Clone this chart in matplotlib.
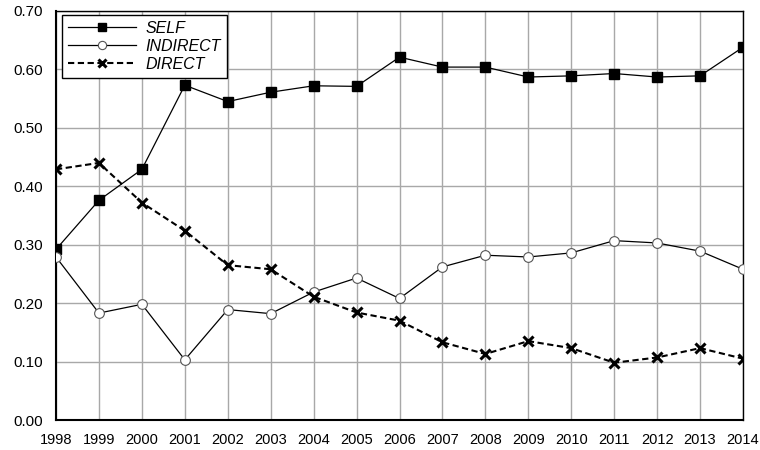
import matplotlib.pyplot as plt

plt.rcParams['font.family'] = ['Liberation Sans', 'DejaVu Sans']

years = list(range(1998, 2015))
self_vals = [0.292, 0.376, 0.429, 0.573, 0.545, 0.561, 0.572, 0.571, 0.621,
             0.604, 0.604, 0.587, 0.589, 0.593, 0.587, 0.589, 0.638]
indirect_vals = [0.279, 0.183, 0.198, 0.103, 0.189, 0.182, 0.219, 0.243, 0.208,
                 0.262, 0.282, 0.279, 0.286, 0.307, 0.303, 0.289, 0.258]
direct_vals = [0.429, 0.440, 0.372, 0.324, 0.265, 0.258, 0.211, 0.184, 0.170,
               0.133, 0.113, 0.135, 0.123, 0.098, 0.107, 0.123, 0.105]

fig = plt.figure(figsize=(7.6, 4.5), dpi=100)
# axes box measured in pixels: x 56..743, y 11..420
ax = fig.add_axes([56 / 760, 30 / 450, 687 / 760, 409 / 450])

ax.plot(years, self_vals, color='black', lw=0.9, marker='s', ms=7.2,
        mfc='black', mec='black', label='SELF', zorder=3)
ax.plot(years, indirect_vals, color='black', lw=0.9, marker='o', ms=7,
        mfc='white', mec='#555555', mew=0.8, label='INDIRECT', zorder=3)
ax.plot(years, direct_vals, color='black', lw=1.5, ls=(0, (3, 1.7)), marker='x',
        ms=6.5, mew=2.2, mec='black', label='DIRECT', zorder=3)

ax.set_xlim(1998, 2014)
ax.set_ylim(0, 0.70)
ax.set_xticks(years)
ax.set_yticks([i / 10 for i in range(8)])
ax.set_yticklabels([f'{i / 10:.2f}' for i in range(8)])
ax.tick_params(axis='x', length=0, labelsize=10.5, pad=9)
ax.tick_params(axis='y', length=0, labelsize=11, pad=9.4)
for lab in ax.get_xticklabels():
    lab.set_family(['Liberation Sans Narrow', 'Liberation Sans'])
ax.grid(True, color='#a8a8a8', lw=1.0)
ax.set_axisbelow(True)
for sp in ax.spines.values():
    sp.set_color('black')
    sp.set_linewidth(1.0)
ax.spines['left'].set_linewidth(1.5)
ax.spines['bottom'].set_linewidth(1.5)

leg = ax.legend(loc='upper left', bbox_to_anchor=(62 / 760, 1 - 15 / 450),
                bbox_transform=fig.transFigure, borderaxespad=0,
                fancybox=False, edgecolor='black', framealpha=1,
                handlelength=4.3, handletextpad=0.6, borderpad=0.35,
                labelspacing=0.2, markerscale=0.85,
                prop={'style': 'italic', 'size': 11.5})
leg.get_frame().set_linewidth(1.0)

fig.savefig('out.png', dpi=100)
